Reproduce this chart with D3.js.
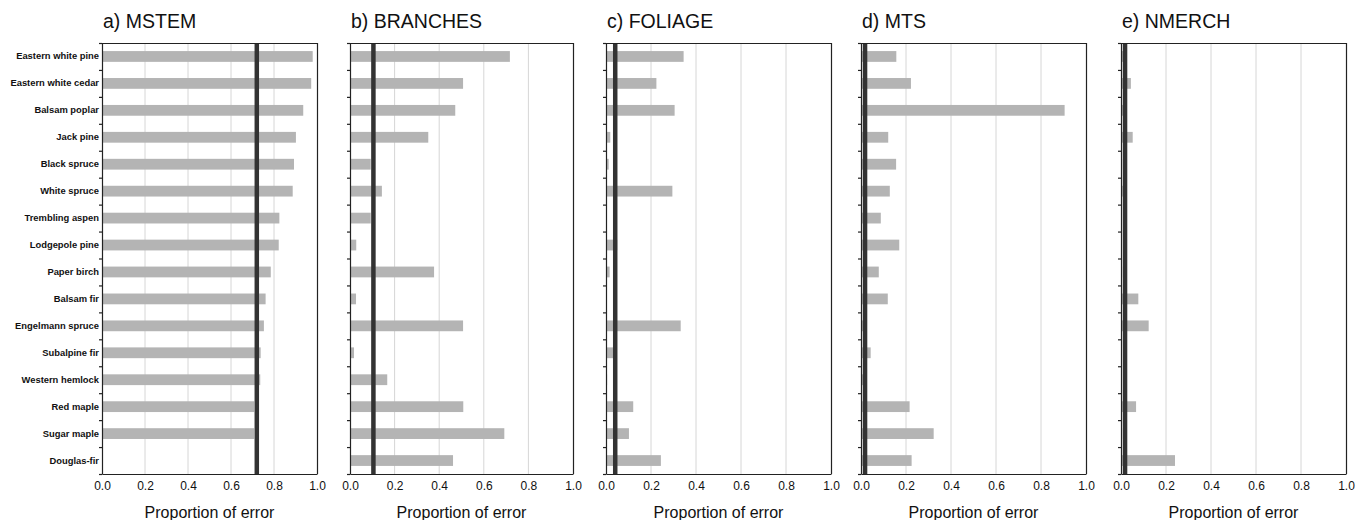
<!DOCTYPE html>
<html>
<head>
<meta charset="utf-8">
<script src="https://cdn.jsdelivr.net/npm/d3@7"></script>
<style>
body { margin: 0; background: #fff; }
text { font-family: "Liberation Sans", Arial, sans-serif; fill: #111; }
</style>
</head>
<body>
<div id="chart"></div>
<script>
var species = ["Eastern white pine", "Eastern white cedar", "Balsam poplar", "Jack pine",
  "Black spruce", "White spruce", "Trembling aspen", "Lodgepole pine", "Paper birch",
  "Balsam fir", "Engelmann spruce", "Subalpine fir", "Western hemlock", "Red maple",
  "Sugar maple", "Douglas-fir"];

var titles = ["a) MSTEM", "b) BRANCHES", "c) FOLIAGE", "d) MTS", "e) NMERCH"];

var mstem    = [0.98, 0.973, 0.936, 0.902, 0.893, 0.887, 0.825, 0.822, 0.785, 0.761, 0.753, 0.738, 0.736, 0.708, 0.708, 0.004];
var branches = [0.717, 0.507, 0.472, 0.351, 0.093, 0.143, 0.093, 0.028, 0.377, 0.027, 0.507, 0.018, 0.167, 0.508, 0.692, 0.462];
var foliage  = [0.345, 0.224, 0.305, 0.019, 0.012, 0.295, 0.0, 0.05, 0.016, 0.003, 0.332, 0.033, 0.005, 0.121, 0.102, 0.244];
var mts      = [0.157, 0.222, 0.905, 0.121, 0.156, 0.128, 0.088, 0.17, 0.079, 0.119, 0.01, 0.043, 0.01, 0.216, 0.323, 0.225];
var nmerch   = [0.01, 0.044, 0.01, 0.052, 0.005, 0.008, 0.0, 0.0, 0.005, 0.077, 0.123, 0.0, 0.0, 0.067, 0.005, 0.24];

// proportion of error for the whole data set (dark vertical line)
var overall = [0.72, 0.105, 0.041, 0.018, 0.018];

var series = [mstem, branches, foliage, mts, nmerch];
var xTicks = [0, 0.2, 0.4, 0.6, 0.8, 1.0];

var W = 1356, H = 520;
var plotTop = 43, plotBot = 474;
var lefts  = [102, 350, 606, 861, 1121];
var rights = [317, 573, 831, 1086, 1346];

var svg = d3.select("#chart").append("svg")
    .attr("width", W)
    .attr("height", H);

var y = d3.scaleBand()
    .domain(species)
    .range([plotTop, plotBot])
    .paddingInner(0.6)
    .paddingOuter(0.3);

var yIdx = d3.scaleLinear()
    .domain([0, species.length])
    .range([plotTop, plotBot]);

series.forEach(function(vals, p) {
    var x = d3.scaleLinear()
        .domain([0, 1])
        .range([lefts[p], rights[p]]);

    var g = svg.append("g");

    // gridlines
    g.selectAll(".grid").data(xTicks.slice(1, -1)).enter().append("line")
        .attr("class", "grid")
        .attr("x1", d => x(d)).attr("x2", d => x(d))
        .attr("y1", plotTop).attr("y2", plotBot)
        .attr("stroke", "#d6d6d6")
        .attr("stroke-width", 1);

    // bars
    g.selectAll(".bar").data(vals).enter().append("rect")
        .attr("class", "bar")
        .attr("x", x(0))
        .attr("y", (d, i) => y(species[i]))
        .attr("width", d => x(d) - x(0))
        .attr("height", y.bandwidth())
        .attr("fill", "#b4b4b4");

    // overall line
    g.append("line")
        .attr("x1", x(overall[p])).attr("x2", x(overall[p]))
        .attr("y1", plotTop).attr("y2", plotBot)
        .attr("stroke", "#333")
        .attr("stroke-width", 4.5);

    // frame top & right
    g.append("path")
        .attr("d", "M" + x(0) + "," + (plotTop + 0.5) + "H" + (x(1) + 0.5) + "V" + plotBot)
        .attr("fill", "none")
        .attr("stroke", "#222")
        .attr("stroke-width", 1.2);

    // left ticks at band boundaries
    var yAxis = d3.axisLeft(yIdx)
        .tickValues(d3.range(species.length + 1))
        .tickFormat("")
        .tickSize(3)
        .tickSizeOuter(0);
    g.append("g")
        .attr("transform", "translate(" + x(0) + ",0)")
        .call(yAxis)
        .call(s => s.selectAll("line, path").attr("stroke", "#222").attr("stroke-width", 1.2));

    if (p === 0) {
        var labAxis = d3.axisLeft(y).tickSize(0).tickPadding(3);
        g.append("g")
            .attr("transform", "translate(" + x(0) + ",0)")
            .call(labAxis)
            .call(s => s.select(".domain").remove())
            .call(s => s.selectAll("text")
                .style("font-family", "'Liberation Sans', Arial, sans-serif")
                .style("font-size", "9.4px")
                .style("font-weight", "bold")
                .attr("fill", "#111"));
    }

    // bottom axis
    var xAxis = d3.axisBottom(x)
        .tickValues(xTicks)
        .tickFormat(d3.format(".1f"))
        .tickSize(0)
        .tickPadding(7);
    g.append("g")
        .attr("transform", "translate(0," + plotBot + ")")
        .call(xAxis)
        .call(s => s.select(".domain").attr("stroke", "#222").attr("stroke-width", 1.2))
        .call(s => s.selectAll("text")
            .style("font-family", "'Liberation Sans', Arial, sans-serif")
            .style("font-size", "12px")
            .attr("fill", "#111"));

    // axis title
    g.append("text")
        .attr("x", (x(0) + x(1)) / 2)
        .attr("y", 518)
        .attr("text-anchor", "middle")
        .style("font-size", "16px")
        .text("Proportion of error");

    // panel title
    g.append("text")
        .attr("x", x(0) + 1)
        .attr("y", 28)
        .style("font-size", "19.5px")
        .text(titles[p]);
});
</script>
</body>
</html>
